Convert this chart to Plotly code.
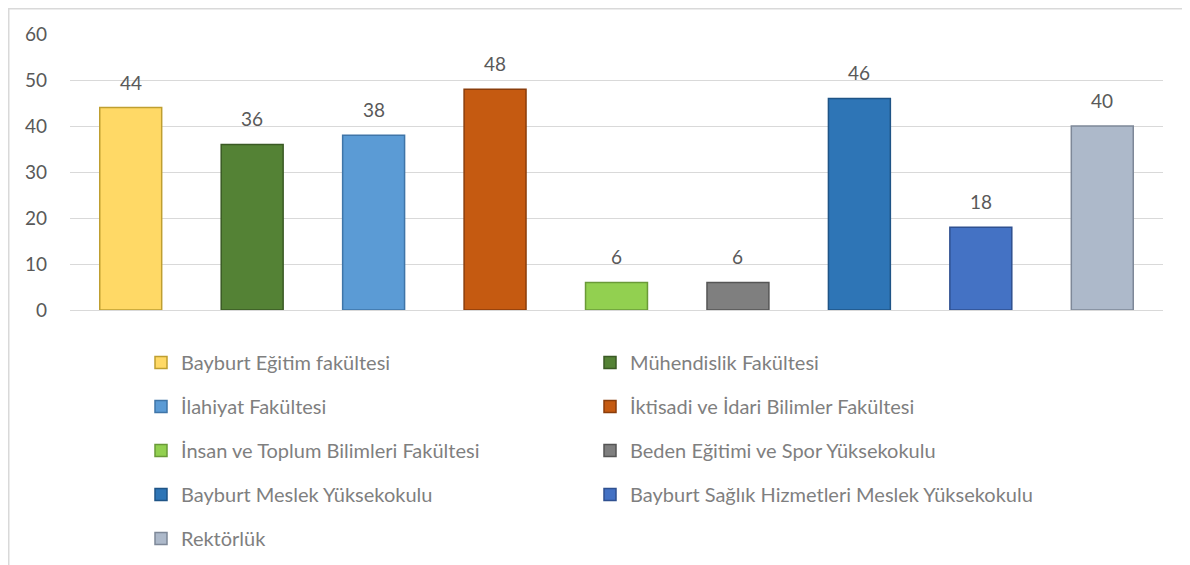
import plotly.graph_objects as go

categories = [
    "Bayburt Eğitim fakültesi",
    "Mühendislik Fakültesi",
    "İlahiyat Fakültesi",
    "İktisadi ve İdari Bilimler Fakültesi",
    "İnsan ve Toplum Bilimleri Fakültesi",
    "Beden Eğitimi ve Spor Yüksekokulu",
    "Bayburt Meslek Yüksekokulu",
    "Bayburt Sağlık Hizmetleri Meslek Yüksekokulu",
    "Rektörlük",
]
values = [44, 36, 38, 48, 6, 6, 46, 18, 40]
colors = ["#FFD966", "#548235", "#5B9BD5", "#C55A11", "#92D050",
          "#7F7F7F", "#2E75B6", "#4472C4", "#ADB9CA"]
edge_colors = ["#BF9F30", "#3A5A24", "#3F75A8", "#8A3D0B", "#6A9A38",
               "#555555", "#1F5486", "#2F5090", "#7E8898"]
y_ticks = [0, 10, 20, 30, 40, 50, 60]

# page body adds an 8px offset; figure sized to fit the window
W, H = 1182, 557
ml, mr, mt, mb = 62, 27, 26, 255

fig = go.Figure()
for i, (c, v) in enumerate(zip(categories, values)):
    fig.add_trace(go.Bar(
        x=[c], y=[v], name=c, width=0.51,
        marker=dict(color=colors[i], line=dict(color=edge_colors[i], width=1.5)),
        legend="legend" if i % 2 == 0 else "legend2",
        legendgroup=f"g{i}",
        hoverinfo="x+y",
    ))

annotations = []
for c, v in zip(categories, values):
    annotations.append(dict(
        x=c, y=v, xref="x", yref="y", text=str(v), showarrow=False,
        yanchor="bottom", yshift=12,
        font=dict(family="Lato, Liberation Sans, sans-serif", size=19, color="#595959"),
    ))

pw = W - ml - mr
ph = H - mt - mb
frame = dict(
    type="rect", xref="paper", yref="paper", layer="below",
    x0=(0.75 - ml) / pw, x1=(W - 6 - ml) / pw,
    y0=-(H + 20 - mt - ph) / ph, y1=(ph + mt - 0.75) / ph,
    line=dict(color="#D9D9D9", width=1.5), fillcolor="rgba(0,0,0,0)",
)

legend_font = dict(family="Lato, Liberation Sans, sans-serif", size=20, color="#7F7F7F")
fig.update_layout(
    width=W, height=H,
    margin=dict(l=ml, r=mr, t=mt, b=mb, autoexpand=False),
    paper_bgcolor="white", plot_bgcolor="white",
    barmode="overlay",
    showlegend=True,
    legend=dict(x=133 / W, y=1 - 335 / H, xref="container", yref="container",
                xanchor="left", yanchor="top", orientation="v",
                font=legend_font, tracegroupgap=15, itemwidth=30,
                bgcolor="rgba(0,0,0,0)"),
    legend2=dict(x=582 / W, y=1 - 335 / H, xref="container", yref="container",
                 xanchor="left", yanchor="top", orientation="v",
                 font=legend_font, tracegroupgap=15, itemwidth=30,
                 bgcolor="rgba(0,0,0,0)"),
    xaxis=dict(showticklabels=False, showgrid=False, zeroline=False,
               showline=False, ticks=""),
    yaxis=dict(range=[0, 60], tickvals=y_ticks, showgrid=True,
               gridcolor="#D9D9D9", gridwidth=1, zeroline=True,
               zerolinecolor="#D9D9D9", zerolinewidth=1, showline=False,
               ticks="", ticklabelstandoff=22,
               tickfont=dict(family="Lato, Liberation Sans, sans-serif", size=19, color="#595959")),
    annotations=annotations,
    shapes=[frame],
)

fig.write_html("out.html")
